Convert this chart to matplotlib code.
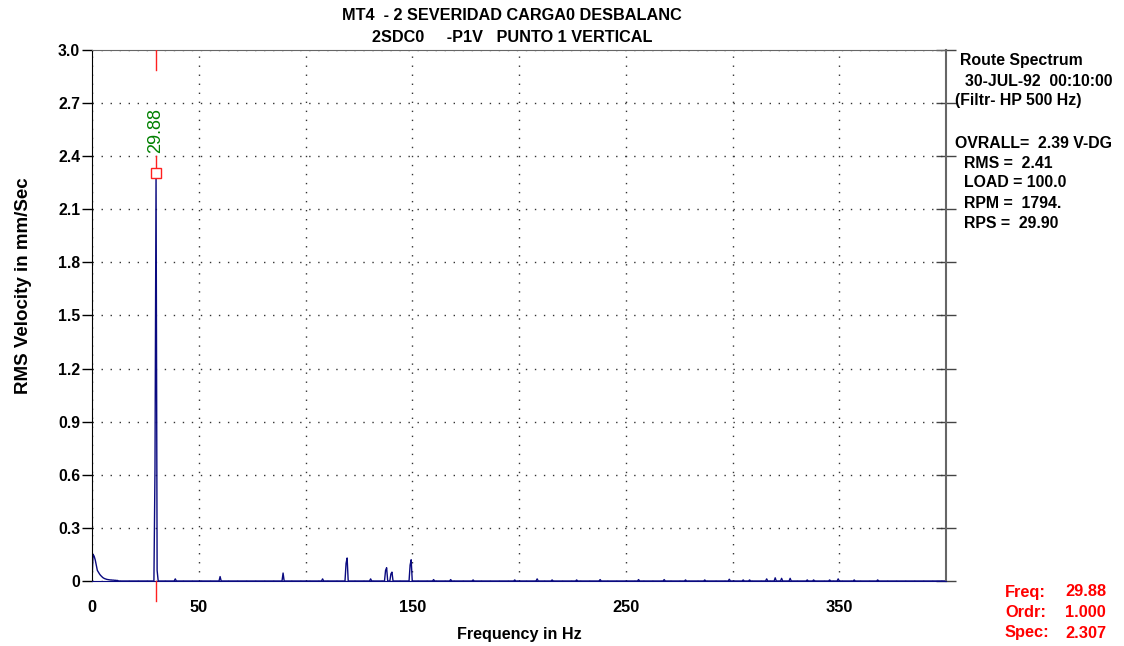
import numpy as np
import matplotlib
matplotlib.use("Agg")
import matplotlib.pyplot as plt
from matplotlib.ticker import MultipleLocator

plt.rcParams['font.family'] = ['Liberation Sans', 'DejaVu Sans']
plt.rcParams['font.weight'] = 'bold'

# ---- spectrum data (0.5 Hz resolution, 0-400 Hz) ----
resolution_hz = 0.5
fmax_hz = 400.0

# low-frequency skirt, first bins from 0 Hz
skirt_amps = [0.0, 0.15, 0.14, 0.12, 0.09, 0.06, 0.05, 0.04, 0.032, 0.026,
              0.02, 0.016, 0.013, 0.011, 0.009, 0.008, 0.007, 0.006, 0.006,
              0.005, 0.005, 0.004, 0.004, 0.003, 0.003]

# discrete spectral lines
peak_freqs = [29.5, 30.0, 30.5, 39.0, 60.0, 89.5, 108.0, 119.0, 119.5, 130.5,
              137.5, 138.0, 140.0, 140.5, 149.0, 149.5, 160.0, 168.0, 178.5,
              198.0, 208.5, 215.5, 227.0, 238.0, 256.0, 268.0, 278.0, 287.0,
              298.5, 305.0, 308.0, 316.0, 320.0, 323.0, 327.0, 335.0, 338.0,
              345.5, 349.5, 357.0, 368.0]
peak_amps = [0.63, 2.307, 0.06, 0.012, 0.025, 0.045, 0.012, 0.10, 0.13, 0.012,
             0.06, 0.075, 0.04, 0.05, 0.09, 0.12, 0.008, 0.008, 0.006,
             0.006, 0.012, 0.006, 0.006, 0.008, 0.008, 0.008, 0.006, 0.006,
             0.01, 0.006, 0.006, 0.012, 0.018, 0.015, 0.015, 0.006, 0.006,
             0.006, 0.012, 0.006, 0.006]

# cursor readout
cursor_freq = 29.88
cursor_order = 1.000
cursor_spec = 2.307

title_lines = ["MT4  - 2 SEVERIDAD CARGA0 DESBALANC",
               "2SDC0     -P1V   PUNTO 1 VERTICAL"]
info_lines = ["Route Spectrum", "30-JUL-92  00:10:00", "(Filtr- HP 500 Hz)",
              "OVRALL=  2.39 V-DG", "RMS =  2.41", "LOAD = 100.0",
              "RPM =  1794.", "RPS =  29.90"]
x_tick_vals = [0, 50, 150, 250, 350]
y_tick_vals = [0.0, 0.3, 0.6, 0.9, 1.2, 1.5, 1.8, 2.1, 2.4, 2.7, 3.0]
y_tick_labels = ["0", "0.3", "0.6", "0.9", "1.2", "1.5", "1.8", "2.1", "2.4", "2.7", "3.0"]

# assemble the spectrum array
n_bins = int(round(fmax_hz / resolution_hz)) + 1
freqs = np.arange(n_bins) * resolution_hz
amps = np.zeros(n_bins)
amps[:len(skirt_amps)] = skirt_amps
for f, a in zip(peak_freqs, peak_amps):
    amps[int(round(f / resolution_hz))] = a

navy = "#0a0a80"
W, H = 1124, 646

fig = plt.figure(figsize=(W / 100, H / 100), dpi=100)
ax = fig.add_axes([92 / W, 1 - 581 / H, (946 - 92) / W, (581 - 50) / H])

ax.plot(freqs, amps, color=navy, lw=1.0, zorder=3)

ax.set_xlim(0, fmax_hz)
ax.set_ylim(0, 3.0)

# dotted grid every 50 Hz / 0.3 units
ax.xaxis.set_minor_locator(MultipleLocator(50))
ax.set_xticks(x_tick_vals)
ax.set_xticklabels([str(v) for v in x_tick_vals], fontsize=11.8, fontweight='bold')
ax.set_yticks(y_tick_vals)
ax.set_yticklabels(y_tick_labels, fontsize=11.3, fontweight='bold')
dots = (0, (1, 5.5))
ax.grid(True, which='both', axis='x', color='#333333', linestyle=dots, lw=1.0)
ax.grid(True, axis='y', color='#333333', linestyle=dots, lw=1.0)
ax.tick_params(axis='x', which='both', length=0, pad=14)
ax.tick_params(axis='y', direction='out', length=7, width=1, pad=1.5)

# short ticks crossing the right frame
rax = ax.secondary_yaxis('right')
rax.set_yticks(y_tick_vals)
rax.tick_params(direction='inout', length=14, width=1, labelright=False, colors='#444444')
rax.spines['right'].set_visible(False)

ax.spines['top'].set_color('#666666')
ax.spines['right'].set_color('#666666')
ax.spines['right'].set_linewidth(1.5)
ax.spines['left'].set_color('black')
ax.spines['bottom'].set_color(navy)
for s in ax.spines.values():
    s.set_zorder(4)

ax.set_xlabel("Frequency in Hz", fontsize=11.6, fontweight='bold', labelpad=8)
ax.set_ylabel("RMS Velocity in mm/Sec", fontsize=13.5, fontweight='bold')
ax.yaxis.set_label_coords((32 - 92) / 854, (581 - 286) / 531)

# cursor: red marker line, square and value label
red = "#ff2020"
ax.plot([cursor_freq, cursor_freq], [2.887, 3.0], color=red, lw=1, zorder=5)
ax.plot([cursor_freq, cursor_freq], [cursor_spec, 2.40], color=red, lw=1, zorder=5)
ax.plot([cursor_freq, cursor_freq], [0, -0.115], color=red, lw=1, zorder=5, clip_on=False)
ax.plot([cursor_freq], [cursor_spec], marker='s', ms=7, mfc='white', mec=red,
        mew=1, zorder=6)
ax.text(cursor_freq, 2.548, f"{cursor_freq:.2f}", rotation=90, color="#008000",
        fontsize=13, fontweight='normal', ha='center', va='center', zorder=6)

# titles
fig.text(512 / W, 1 - 16 / H, title_lines[0], ha='center', va='center',
         fontsize=11.7, fontweight='bold')
fig.text(512 / W, 1 - 37 / H, title_lines[1], ha='center', va='center',
         fontsize=11.7, fontweight='bold')

# information block on the right
info_x = [960, 965, 955, 955, 964, 964, 964, 964]
info_y = [61, 81, 101, 144, 163, 183, 203, 224]
for line, xp, yp in zip(info_lines, info_x, info_y):
    fig.text(xp / W, 1 - yp / H, line, ha='left', va='center',
             fontsize=11.4, fontweight='bold')

# cursor readout in red
readout = [("Freq:", f"{cursor_freq:.2f}"), ("Ordr:", f"{cursor_order:.3f}"),
           ("Spec:", f"{cursor_spec:.3f}")]
for i, (lab, val) in enumerate(readout):
    yy = 1 - (592 + 20.5 * i) / H
    fig.text(1005 / W, yy, lab, ha='left', va='center', color='#ff0000',
             fontsize=11.8, fontweight='bold')
    fig.text(1106 / W, yy, val, ha='right', va='center', color='#ff0000',
             fontsize=11.8, fontweight='bold')

fig.savefig("out.png", dpi=100, facecolor='white')
